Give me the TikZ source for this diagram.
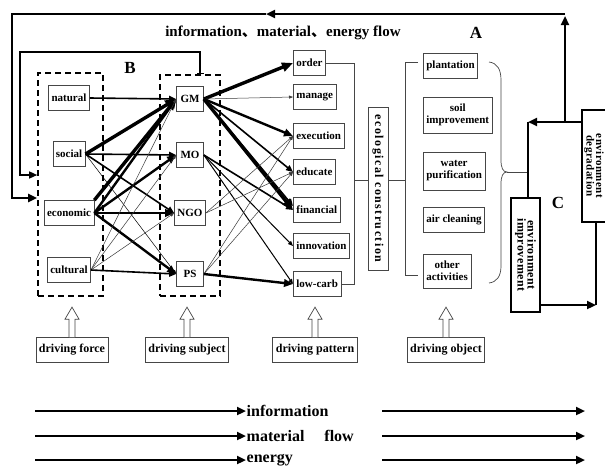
\documentclass[tikz,border=0pt]{standalone}
\usepackage{fontspec}
\setmainfont{Liberation Serif}
\newfontfamily\cjk{Noto Sans CJK SC}
\usetikzlibrary{arrows.meta}
\begin{document}
\begin{tikzpicture}[x=1pt,y=-1pt,
  font=\bfseries\fontsize{11}{11}\selectfont,
  bx/.style={draw=gray!55!black, line width=0.7pt, fill=white, inner xsep=3pt, inner ysep=2pt, minimum height=25pt, align=center},
  sbx/.style={bx, minimum width=27pt},
  pbx/.style={bx, anchor=west},
  obx/.style={bx, anchor=west, font=\bfseries\fontsize{11}{12}\selectfont},
  dbx/.style={bx, font=\bfseries\fontsize{12}{12}\selectfont},
  rbx/.style={draw=black, line width=2pt, fill=white, rotate=-90, align=center, inner sep=1pt,
              font=\bfseries\fontsize{12}{10}\selectfont\addfontfeatures{LetterSpace=4}},
  dashbox/.style={draw, line width=1.6pt, dash pattern=on 6pt off 4pt, inner sep=0pt},
  gline/.style={draw=gray!55!black, line width=0.7pt},
  lp/.style={line width=2.2pt},
  tipL/.style={-{Triangle[length=9pt,width=8pt]}},
  a1/.style={draw=gray!45!black, line width=0.5pt, -{Triangle[length=4pt,width=3pt]}},
  a2/.style={line width=1pt, -{Triangle[length=5pt,width=4pt]}},
  a3/.style={line width=1.6pt, -{Triangle[length=7pt,width=6pt]}},
  a4/.style={line width=2.4pt, -{Triangle[length=9pt,width=7.5pt]}},
  a5/.style={line width=3.4pt, -{Triangle[length=11pt,width=9pt]}},
  lbl/.style={font=\bfseries\fontsize{17}{17}\selectfont, inner sep=0pt},
  legt/.style={anchor=west, inner sep=0.5pt, font=\bfseries\fontsize{16}{16}\selectfont}
]
\useasboundingbox (0,0) rectangle (605,472);
\fill[white] (0,0) rectangle (605,472);

% dashed groups
\node[dashbox, minimum width=65pt, minimum height=223pt] (dfbox) at (70.5,184.5) {};
\node[dashbox, minimum width=60pt, minimum height=221pt] (dsbox) at (190,185.5) {};

% driving force
\node[bx] (natural) at (69,98) {natural};
\node[bx] (social) at (69,154) {social};
\node[bx] (economic) at (69,213) {economic};
\node[bx] (cultural) at (69,270) {cultural};

% driving subject
\node[sbx] (GM) at (190,99) {GM};
\node[sbx] (MO) at (190,155) {MO};
\node[sbx] (NGO) at (190,213) {NGO};
\node[sbx] (PS) at (190,274) {PS};

% driving pattern
\node[pbx] (order) at (293,63) {order};
\node[pbx] (manage) at (293,97) {manage};
\node[pbx] (execution) at (293,136) {execution};
\node[pbx] (educate) at (293,172) {educate};
\node[pbx] (financial) at (293,210) {financial};
\node[pbx] (innovation) at (293,246) {innovation};
\node[pbx] (lowcarb) at (293,284) {low-carb};

% ecological construction
\node[rbx, draw=gray!55!black, line width=0.7pt, minimum width=163pt, minimum height=20pt,
      font=\bfseries\fontsize{12}{10}\selectfont\addfontfeatures{LetterSpace=12}] (eco) at (378,188.5) {ecological construction};

% driving object
\node[obx] (plantation) at (423,66) {plantation};
\node[obx, minimum height=36pt] (soil) at (423,115) {soil\\improvement};
\node[obx, minimum height=38pt] (water) at (423,171) {water\\purification};
\node[obx] (air) at (423,220) {air cleaning};
\node[obx, minimum height=34pt] (other) at (423,271) {other\\activities};

% environment boxes
\node[rbx, minimum width=112pt, minimum height=24pt, inner sep=0.5pt,
      font=\bfseries\fontsize{11}{9.5}\selectfont\addfontfeatures{LetterSpace=4}] (envdeg) at (594,166) {environment\\degradation};
\node[rbx, minimum width=114pt, minimum height=29pt] (envimp) at (525.5,255) {environment\\improvement};

% bottom boxes
\node[dbx] (dforce) at (72,350) {driving force};
\node[dbx] (dsubject) at (187,350) {driving subject};
\node[dbx] (dpattern) at (315,350) {driving pattern};
\node[dbx] (dobject) at (446,350) {driving object};

% labels
\node[font=\bfseries\fontsize{15}{15}\selectfont, inner sep=0pt] (title) at (283,33) {information{\cjk 、}material{\cjk 、}energy flow};
\node[lbl] (labA) at (476,33) {A};
\node[lbl] (labB) at (130,68) {B};
\node[lbl] (labC) at (558,203) {C};

% force -> subject
\draw[a3] (natural.east) -- (GM.west);
\draw[a5] (social.east) -- (GM.west);
\draw[a3] (social.east) -- (MO.west);
\draw[a3] (social.east) -- (NGO.west);
\draw[a1, draw=black] (social.east) -- (PS.west);
\draw[a5] (economic.north east) -- (GM.west);
\draw[a4] (economic.east) -- (GM.west);
\draw[a4] (economic.east) -- (MO.west);
\draw[a4] (economic.east) -- (NGO.west);
\draw[a4] (economic.east) -- (PS.west);
\draw[a1] (cultural.east) -- (GM.west);
\draw[a1] (cultural.east) -- (MO.west);
\draw[a1] (cultural.east) -- (NGO.west);
\draw[a3] (cultural.east) -- (PS.west);

% subject -> pattern
\draw[a5] (GM.east) -- (order.west);
\draw[a1] (GM.east) -- (manage.west);
\draw[a4] (GM.east) -- (execution.west);
\draw[a3] (GM.east) -- (educate.west);
\draw[a5] (GM.east) -- (financial.west);
\draw[a3] (GM.east) -- ([yshift=4pt]financial.west);
\draw[a3] (MO.east) -- (financial.west);
\draw[a2] (MO.east) -- (innovation.west);
\draw[a2] (MO.east) -- (lowcarb.west);
\draw[a1] (NGO.east) -- (execution.west);
\draw[a1] (NGO.east) -- (educate.west);
\draw[a1] (PS.east) -- (execution.west);
\draw[a1] (PS.east) -- (educate.west);
\draw[a4] (PS.east) -- (lowcarb.west);

% pattern bracket -> eco -> object bracket
\coordinate (m1) at (354,180);
\coordinate (m2) at (405,180);
\draw[gline] (order.east) -- (order.east -| m1) -- (lowcarb.east -| m1) -- (lowcarb.east);
\draw[gline] (m1) -- (m1 -| eco.south);
\draw[gline] (eco.north |- m2) -- (m2);
\coordinate (bt) at (418,62);
\coordinate (bb) at (418,275);
\draw[gline] (bt) -- (bt -| m2) -- (bb -| m2) -- (bb);

% brace
\coordinate (btip) at (507,172);
\coordinate (c528) at (528,122);
\draw[gline] (489,62) .. controls (497,63) and (501,69) .. (501,80) -- (501,160)
   .. controls (501,168) and (503,172) .. (btip)
   .. controls (503,172) and (501,176) .. (501,184) -- (501,266)
   .. controls (501,276) and (497,282) .. (489,283);
\draw[gline] (btip) -- (btip -| c528);

% C cycle
\coordinate (j1) at (565,122);
\coordinate (c596) at (596,305);
\draw[lp, tipL] (envdeg.south |- c528) -- (c528);
\draw[lp] (c528) -- (c528 |- envimp.west);
\draw[lp, tipL] (envimp.north |- c596) -- (c596);
\draw[lp] (c596 |- envdeg.east) -- (c596);

% outer loop
\coordinate (tr) at (565,14);
\coordinate (tru) at (565,16);
\coordinate (tm) at (266,14);
\coordinate (tl) at (12,14);
\coordinate (o1) at (12,198);
\draw[lp, tipL] (j1) -- (tru);
\draw[lp, tipL] (tr) -- (tm);
\draw[lp, tipL] (tm) -- (tl) -- (o1) -- (o1 -| dfbox.west);

% inner loop
\coordinate (i0) at ([xshift=10pt]dsbox.north);
\coordinate (i1) at (200,52);
\coordinate (i2) at (20,52);
\coordinate (i3) at (20,175);
\draw[line width=1.4pt, {Bar[width=7pt]}-{Triangle[length=8pt,width=7pt]}] (i0) -- (i1) -- (i2) -- (i3) -- (i3 -| dfbox.west);

% hollow up arrows
\foreach \n in {dforce,dsubject,dpattern,dobject}{
  \draw[draw=gray!55!black, line width=0.7pt, fill=white]
    ([xshift=-3pt]\n.north) -- ++(0,-18) -- ++(-4,0) -- ++(7,-12) -- ++(7,12) -- ++(-4,0) -- ++(0,18);
}

% legend
\node[legt] (lg1) at (246,411) {information};
\node[legt] (lg2) at (246,436) {material\hspace{20pt}flow};
\node[legt] (lg3) at (246,460) {energy};
\coordinate (l1a) at (35,411); \coordinate (l1b) at (382,411); \coordinate (l1c) at (585,411);
\coordinate (l2a) at (35,436); \coordinate (l2b) at (382,436); \coordinate (l2c) at (585,436);
\coordinate (l3a) at (35,460); \coordinate (l3b) at (382,460); \coordinate (l3c) at (585,460);
\draw[lp, tipL] (l1a) -- (lg1.west);
\draw[lp, tipL] (l2a) -- (lg2.west);
\draw[lp, tipL] (l3a) -- (lg3.west);
\draw[lp, tipL] (l1b) -- (l1c);
\draw[lp, tipL] (l2b) -- (l2c);
\draw[lp, tipL] (l3b) -- (l3c);
\end{tikzpicture}
\end{document}
